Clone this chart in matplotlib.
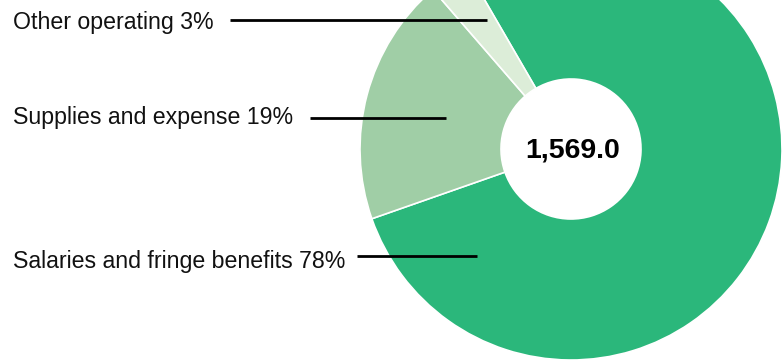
import matplotlib
matplotlib.use("Agg")
from matplotlib import pyplot as plt

# ─── data ────────────────────────────────────────────────────────────
CATEGORIES = ["Salaries and fringe benefits", "Supplies and expense", "Other operating"]
SHARES     = [78, 19, 3]                       # percent of total
TOTAL      = 1569.0
COLS       = ["#2bb77b", "#a0cea6", "#dcedd8"]

# label placement in pixel space (text x, text baseline y, line y, line x0, line x1)
LABEL_POS  = [(13, 268, 256, 357, 477),
              (13, 124, 117.5, 310, 446),
              (13, 29, 19.5, 230, 487)]

W, H = 783, 360
fig = plt.figure(figsize=(W / 100, H / 100), dpi=100)
ax = fig.add_axes([0, 0, 1, 1])

cx, cy, r = 571, H - 149, 211
ax.pie(SHARES, colors=COLS, startangle=120.1, counterclock=False,
       center=(cx, cy), radius=r, frame=True,
       wedgeprops=dict(width=r - 70, edgecolor="white", linewidth=1.2))
ax.set_xlim(0, W)
ax.set_ylim(0, H)
ax.set_aspect("equal")
ax.axis("off")

ax.text(cx + 2, cy - 1, f"{TOTAL:,.1f}", ha="center", va="center",
        fontsize=20.5, fontweight="bold", family="Liberation Sans", color="black")

for cat, pct, (tx, ty, ly, lx0, lx1) in zip(CATEGORIES, SHARES, LABEL_POS):
    ax.text(tx, H - ty, f"{cat} {pct}%", ha="left", va="baseline",
            fontsize=16.7, family="Liberation Sans", color="#111111")
    ax.plot([lx0, lx1], [H - ly, H - ly], color="black", lw=2,
            solid_capstyle="butt")

plt.savefig("out.png", dpi=100)
